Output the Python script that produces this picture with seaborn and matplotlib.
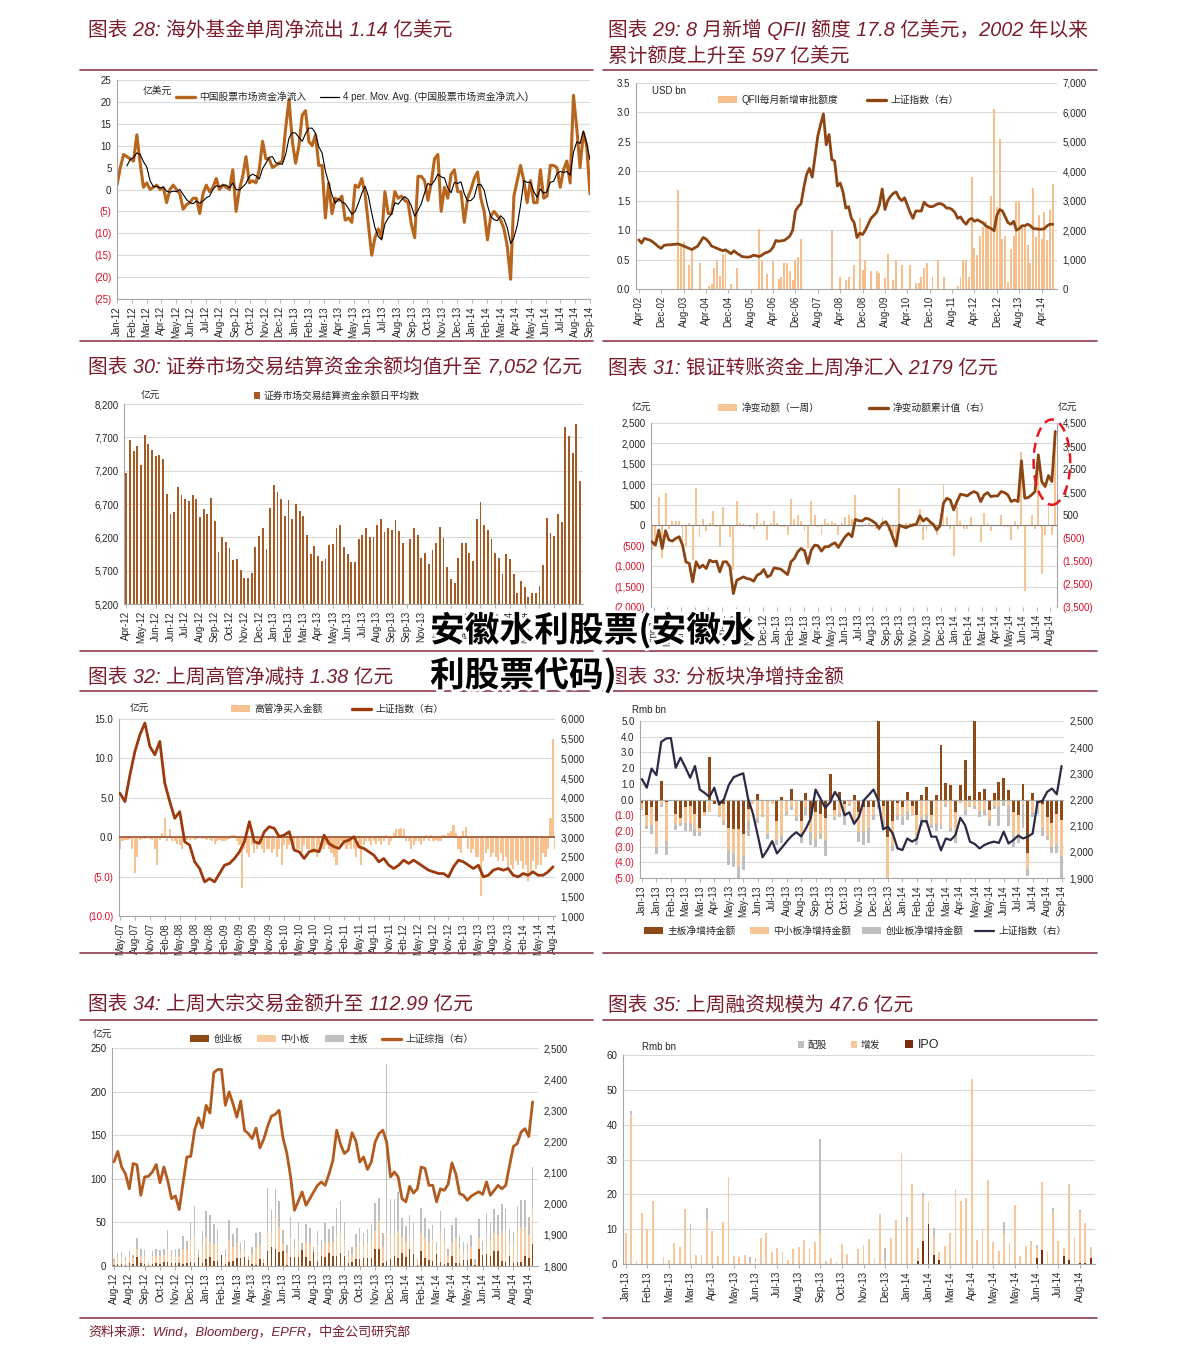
import numpy as np
import pandas as pd
import matplotlib
matplotlib.use("Agg")
import matplotlib.pyplot as plt
import matplotlib.patheffects as pe
from matplotlib.patches import Patch, Ellipse
from matplotlib.lines import Line2D
import seaborn as sns

# ============================ DATA ============================
# --- 图表28: weekly net flow (USD 100m), Jan-12 .. Sep-14
p28_labels = ["Jan-12", "Feb-12", "Mar-12", "Apr-12", "May-12", "Jun-12", "Jul-12", "Aug-12", "Sep-12",
              "Oct-12", "Nov-12", "Dec-12", "Jan-13", "Feb-13", "Mar-13", "Apr-13", "May-13", "Jun-13",
              "Jul-13", "Aug-13", "Sep-13", "Oct-13", "Nov-13", "Dec-13", "Jan-14", "Feb-14", "Mar-14",
              "Apr-14", "May-14", "Jun-14", "Jul-14", "Aug-14", "Sep-14"]
p28_flow = [1, 5, 8, 7.5, 7, 6.5, 12.5, 6, 0.5, 1.5,
            0, 0.5, 1, 0, 0.5, -3, 0, 1, 0, -1,
            -4.5, -3.5, -3, -2, -2, -5.5, -1, 1, -0.5, 0.5,
            2.5, 0, 1, 0.5, 0, 4.5, -5, 0, 3, 7.5,
            1.5, 2, 1.5, 4.5, 11, 7, 7, 5, 5.5, 6,
            6.5, 14, 20.5, 11, 6, 10, 17, 18, 11, 10,
            12.5, 5.5, 5.5, -6.5, 1.5, -5.5, -2, -2.5, -1.5, -7,
            -6.5, -7.5, 1, 0.5, 2.5, -1, -8, -15, -11, -9,
            -11, -0.5, -5.5, -5.5, -0.5, -2, -1.5, -2.5, -3, -8,
            -11, 3, 3, 2, -2.5, 1.5, 7, 8, -5, 0.5,
            -2, 3.5, 4.5, -0.5, -0.5, -7.5, -2, 0, 2.5, 4,
            -2, -5, -11.5, -6, -5, -6, -7, -9, -13, -20.5,
            -1.5, 2, 5.5, 2, -3, 2, -3, -3, 4.5, -2,
            -1.5, 5.5, 5.5, 5, 0.5, 4.5, 6.5, 1.5, 21.5, 14,
            5, 13, 10, -1]

# --- 图表29: monthly QFII approvals (USD bn) and SSE index, Apr-02 .. Aug-14
p29_labels = ["Apr-02", "Dec-02", "Aug-03", "Apr-04", "Dec-04", "Aug-05", "Apr-06", "Dec-06", "Aug-07",
              "Apr-08", "Dec-08", "Aug-09", "Apr-10", "Dec-10", "Aug-11", "Apr-12", "Dec-12", "Aug-13", "Apr-14"]
p29_qfii = [0, 0, 0, 0, 0, 0, 0, 0, 0, 0,
            0, 0, 0, 0, 1.68, 0.72, 0.8, 0, 0.4, 0.65,
            0, 0, 0.45, 0, 0, 0.05, 0.08, 0.35, 0.5, 0.22,
            0.6, 0.62, 0, 0.08, 0, 0.35, 0, 0, 0, 0,
            0, 0, 0, 1.02, 0.47, 0, 0.25, 0, 0.47, 0,
            0.17, 0.2, 0.45, 0.45, 0.3, 0.15, 0.5, 0.55, 0.85, 0,
            0, 0, 0, 0, 0, 0, 0, 0, 0, 1.0,
            0, 0, 0.2, 0, 0.15, 0.2, 0, 0.4, 0, 1.2,
            0.32, 0.5, 0, 0.3, 0, 0.3, 0.28, 0, 0.18, 0.6,
            0, 0.15, 0.5, 0, 0.4, 0, 0, 0.4, 0, 0.1,
            0.1, 0.2, 0.35, 0.45, 0, 0.2, 0, 0.5, 0, 0.2,
            0, 0, 0, 0, 0.05, 0.2, 0.5, 0.5, 0.2, 1.9,
            0.7, 0.57, 0.9, 1.05, 1.15, 1.05, 1.58, 3.05, 1.4, 2.55,
            0.85, 0.9, 0.12, 0.68, 0.9, 1.5, 1.5, 1.05, 1.05, 0.75,
            0.45, 1.72, 0.88, 1.25, 0.85, 1.3, 0.83, 1.35, 1.78]
p29_index = [1670, 1560, 1720, 1690, 1660, 1600, 1520, 1440, 1380, 1480,
             1500, 1500, 1510, 1520, 1530, 1500, 1460, 1420, 1380, 1340,
             1400, 1450, 1600, 1750, 1700, 1600, 1460, 1420, 1380, 1340,
             1300, 1330, 1260, 1200, 1300, 1220, 1160, 1100, 1090, 1080,
             1100, 1150, 1130, 1100, 1150, 1220, 1250, 1300, 1420, 1650,
             1620, 1640, 1650, 1720, 1800, 2000, 2650, 2800, 2900, 3450,
             3900, 4100, 3800, 4500, 5200, 5600, 5950, 4900, 5250, 4400,
             4350, 3500, 3600, 3300, 2750, 2800, 2400, 2250, 1750, 1900,
             1850, 2000, 2200, 2400, 2500, 2600, 2850, 3400, 2700, 3000,
             3150, 3250, 3300, 3100, 3000, 3100, 2850, 2600, 2400, 2650,
             2650, 2650, 2950, 2850, 2800, 2800, 2850, 2900, 2900, 2850,
             2750, 2750, 2700, 2600, 2400, 2450, 2300, 2200, 2350, 2400,
             2300, 2350, 2300, 2250, 2150, 2100, 2050, 1980, 2500, 2700,
             2650, 2450, 2250, 2200, 2300, 2000, 2050, 2150, 2150, 2200,
             2150, 2050, 2050, 2030, 2030, 2050, 2150, 2200, 2200]

# --- 图表30: weekly settlement fund balance (100m RMB)
p30_labels = ["Apr-12", "May-12", "Jun-12", "Jun-12", "Jul-12", "Aug-12", "Sep-12", "Oct-12", "Nov-12",
              "Dec-12", "Jan-13", "Feb-13", "Mar-13", "Apr-13", "May-13", "Jun-13", "Jul-13", "Aug-13",
              "Sep-13", "Sep-13", "Nov-13", "Dec-13", "Dec-13", "Jan-14", "Feb-14", "Mar-14", "Apr-14",
              "May-14", "Jun-14", "Jul-14", "Aug-14"]
p30_balance = [7166, 7665, 7490, 7575, 7280, 7740, 7600, 7510, 7415, 7430,
               7370, 6857, 6552, 6582, 6950, 6830, 6772, 6742, 6842, 6782,
               6512, 6627, 6547, 6787, 6442, 5973, 6208, 6123, 6038, 5853,
               5868, 5714, 5584, 5589, 5669, 6058, 6213, 6333, 6023, 6647,
               6982, 6877, 6782, 6517, 6767, 6482, 6707, 6592, 6527, 6228,
               5943, 6068, 5923, 5843, 5873, 6078, 6103, 6333, 6387, 6058,
               5943, 5829, 5829, 6168, 6228, 6333, 6208, 6198, 6378, 6482,
               6273, 6333, 6313, 6462, 6288, 6108, np.nan, 6168, 6333, 6228,
               5893, 5958, 5794, 6008, 6108, 6353, 6183, 5749, 5569, 5509,
               5893, 6108, 6108, 5958, 5839, 6472, 6732, 6392, 6308, 6178,
               5958, 5893, 5644, 5943, 5873, 5644, 5360, 5549, 5449, 5300,
               5370, 5370, 5474, 5779, 6497, 6268, 6213, 6557, 6432, 7860,
               7720, 7460, 7905, 7052]

# --- 图表31: weekly bank-securities transfer (100m RMB) and cumulative value
p31_labels = ["Apr-12", "May-12", "Jun-12", "Jul-12", "Aug-12", "Sep-12", "Oct-12", "Nov-12", "Dec-12",
              "Jan-13", "Feb-13", "Mar-13", "Apr-13", "May-13", "Jun-13", "Jul-13", "Aug-13", "Sep-13",
              "Sep-13", "Nov-13", "Nov-13", "Dec-13", "Jan-14", "Feb-14", "Mar-14", "Apr-14", "May-14",
              "Jun-14", "Jul-14", "Aug-14"]
p31_weekly = [-600, -400, 700, -800, 800, -100, 100, 100, 100, -400,
              -500, 50, -850, 900, -300, 150, -150, 50, 350, -50,
              -500, 450, 0, -300, -1100, 600, 50, 50, 0, -50,
              -100, 300, 50, 100, -350, 50, 350, 50, -50, -50,
              -250, 650, 150, 250, 100, -150, -550, 600, 250, -50,
              -250, 150, 50, 100, 50, -250, 50, 200, 250, 150,
              750, -50, -50, 50, 50, -50, -100, -150, 200, 50,
              -150, -250, -400, 900, 0, 50, 50, 50, 50, 400,
              -350, -150, 100, 50, -250, 100, 1000, 200, -100, -750,
              450, 100, -100, -100, 200, 0, 0, -400, 300, 50,
              -150, 0, 0, 250, -50, -50, -350, 100, -100, 1800,
              -1600, 0, 250, -100, 1500, -1200, -250, 500, -250, 2179]
p31_cum = [-663, -809, -154, -954, -183, -590, -634, -518, -445, -809,
           -1536, -1609, -2409, -1536, -1798, -1681, -1827, -1463, -1536, -1507,
           -1972, -1536, -1536, -1754, -2918, -2336, -2263, -2191, -2263, -2292,
           -2380, -2118, -2045, -1870, -2191, -2118, -1798, -1827, -1856, -1972,
           -2089, -1536, -1390, -1100, -954, -1056, -1609, -1027, -809, -838,
           -1071, -881, -881, -780, -707, -910, -663, -445, -300, -445,
           311, 253, 239, 355, 326, 239, 137, -81, 137, 209,
           -38, -445, -852, 64, -9, -52, 20, 64, 93, 471,
           239, 355, 209, 93, -154, 35, 1010, 1228, 1156, 719,
           1083, 1403, 1374, 1330, 1446, 1519, 1446, 1083, 1374, 1475,
           1300, 1330, 1330, 1519, 1475, 1374, 1083, 1156, 1083, 2857,
           1228, 1257, 1374, 1519, 3119, 1955, 1737, 2217, 1955, 4137]

# --- 图表32: executives' net purchase (100m RMB, half-monthly) and SSE index (monthly), May-07 .. Aug-14
p32_labels = ["May-07", "Aug-07", "Nov-07", "Feb-08", "May-08", "Aug-08", "Nov-08", "Feb-09", "May-09",
              "Aug-09", "Nov-09", "Feb-10", "May-10", "Aug-10", "Nov-10", "Feb-11", "May-11", "Aug-11",
              "Nov-11", "Feb-12", "May-12", "Aug-12", "Nov-12", "Feb-13", "May-13", "Aug-13", "Nov-13",
              "Feb-14", "May-14", "Aug-14"]
p32_netbuy = [-1.5, -0.5, -0.3, -0.3, -0.2, -1.5, -4.5, -2.5, -0.3, -0.2,
              -0.2, -0.1, -0.2, -0.3, -1.5, -3.5, -0.3, 0.5, 2.5, -0.5,
              1.0, -0.5, -0.5, -0.8, -1.0, -1.5, -0.5, -0.3, -0.3, 0.2,
              -0.3, -0.2, 0.2, -0.2, -0.2, -0.3, -0.3, -0.5, -0.8, -0.5,
              -0.3, -0.5, -0.5, -0.3, -0.2, 0.3, 0.3, -0.5, -1.0, -6.5,
              -1.5, -2.0, -2.5, -1.0, -2.0, -1.5, -1.0, -1.5, -2.0, -1.5,
              -1.5, -2.0, -1.5, -2.5, -1.5, -3.5, -1.0, -1.5, -1.0, -1.5,
              -1.0, -1.5, -1.5, -2.0, -1.0, -1.5, -1.5, -2.0, -2.0, -2.5,
              -1.0, -1.5, -1.5, -1.0, -1.5, -2.0, -2.5, -3.5, -1.0, -0.5,
              -1.0, -1.5, -1.0, -1.5, -1.5, -2.5, -1.5, -3.5, -1.0, -0.5,
              -0.5, -1.0, -0.5, -0.8, -0.5, -1.0, -0.5, 0.3, -1.0, -0.5,
              0.5, 1.0, 1.0, 1.2, 1.0, -0.5, -0.5, -1.5, -1.0, -0.5,
              -0.5, -1.0, -0.5, 0.3, -0.5, 0.3, -0.5, -0.3, -0.5, -0.5,
              0.3, 0.2, 0.5, 0.8, 1.5, 0.5, -1.5, -2.0, 0.8, 1.3,
              -1.5, -2.0, -1.5, -2.5, -2.5, -7.5, -3.0, -2.0, -1.5, -2.5,
              -2.0, -2.5, -3.0, -2.0, -3.0, -2.5, -4.0, -3.5, -4.0, -3.0,
              -3.5, -3.0, -4.0, -3.5, -5.5, -4.5, -3.0, -4.0, -3.5, -3.5,
              -2.0, -2.5, -1.5, 2.5, 12.5, -1.5]
p32_index = [4115, 3903, 4582, 5177, 5600, 5898, 5304, 5092, 5430, 4370,
             3903, 3479, 3648, 2885, 2800, 2375, 2205, 1866, 1950, 1866,
             2078, 2290, 2333, 2460, 2630, 2885, 3394, 2885, 2842, 3139,
             3267, 3224, 3012, 3054, 3139, 2672, 2630, 2460, 2630, 2672,
             2630, 3054, 2842, 2757, 2715, 2885, 2927, 3012, 2757, 2715,
             2630, 2545, 2375, 2460, 2290, 2205, 2290, 2418, 2333, 2418,
             2333, 2248, 2163, 2120, 2078, 2078, 1993, 2248, 2418, 2375,
             2290, 2205, 2290, 1993, 2035, 2163, 2205, 2163, 2205, 2035,
             1993, 2078, 2035, 2120, 2035, 2035, 2120, 2248]

# --- 图表33: weekly net increase by board (RMB bn) and SSE index
p33_labels = ["Jan-13", "Jan-13", "Feb-13", "Mar-13", "Mar-13", "Apr-13", "May-13", "May-13", "Jun-13",
              "Jul-13", "Aug-13", "Aug-13", "Sep-13", "Oct-13", "Oct-13", "Nov-13", "Dec-13", "Dec-13",
              "Jan-14", "Feb-14", "Feb-14", "Mar-14", "Apr-14", "May-14", "May-14", "Jun-14", "Jul-14",
              "Jul-14", "Aug-14", "Sep-14"]
p33_main = [-0.2, -1.0, -0.5, -1.4, 1.2, -0.15, 0, -0.9, -1.2, -0.5,
            -0.4, -0.9, -1.8, -0.8, 2.7, -0.3, -0.2, -0.3, -1.8, -1.9,
            -1.9, -2.2, -0.6, -0.1, 0.35, -0.1, 0, -0.1, -1.4, 0.15,
            -0.1, 0.65, -0.1, -1.4, 0.4, -1.2, -0.8, -0.9, -1.2, 1.6,
            -0.7, 0.45, -0.3, -0.1, 0.3, -0.8, -0.5, -0.5, -0.5, 5.0,
            -0.4, -2.4, -1.4, -0.2, -0.5, 0.5, -0.4, -1.0, 0.3, 0.8,
            -1.0, 0.3, 3.5, 1.05, 0.9, -0.8, 0.9, 2.5, 0.2, 5.0,
            0.45, 0.7, -0.7, 0.4, 1.1, 1.35, 0.6, -0.8, -1.0, 1.0,
            -3.4, 0.4, -0.2, -0.3, -1.1, -1.5, -0.9, -1.3]
p33_sme = [-0.4, -0.7, -1.1, -1.6, -0.3, -2.5, 0, -0.7, -0.3, -1.0,
           -1.1, -1.0, -0.3, -0.2, -0.8, 0, -0.8, -1.1, -1.4, -1.5,
           -2.4, -1.4, -0.8, -0.2, -1.2, -0.8, -2.2, -0.2, -1.2, -2.3,
           -0.7, -0.4, -1.0, -0.8, -0.5, -0.9, -1.7, -1.3, -1.4, -0.2,
           -0.4, -0.9, -0.7, -0.2, -1.3, -1.3, -1.5, -1.3, -0.5, -0.3,
           -1.0, -2.6, -1.5, -0.8, -0.6, -0.8, -0.5, -1.6, -1.2, -1.0,
           -0.6, -1.5, -1.6, -0.3, -1.8, -1.6, -0.2, -0.7, -0.4, -0.4,
           -0.8, -0.7, -0.6, -0.4, -0.5, -0.1, -0.4, -1.5, -1.2, -0.3,
           -1.0, -0.8, -0.5, -1.5, -1.2, -1.5, -2.0, -2.3]
p33_chinext = [-0.1, -0.2, -0.6, -0.5, -0.2, -0.9, 0, -0.35, -0.2, -0.5,
               -0.5, -0.4, -0.2, 0, 0, 0, -0.1, -0.2, -1.0, -0.9,
               -0.8, -0.9, -0.9, 0, -0.3, -0.2, -0.3, 0, -0.3, -0.5,
               -0.2, -0.3, -0.3, -0.6, -0.5, -0.8, -0.5, -0.3, -1.0, 0,
               -0.2, -0.2, -0.6, -0.1, -0.1, -0.6, -0.9, -1.0, -0.3, -0.3,
               -0.4, 0, -0.4, -0.3, -0.5, -0.5, -0.1, -0.3, -0.5, -0.5,
               -0.2, -0.5, -0.3, -0.2, -0.3, -0.4, 0, -0.3, -0.1, -0.2,
               -0.3, -0.3, -0.4, -0.2, -1.2, -0.3, -1.3, -0.7, -0.6, -1.5,
               -0.5, -0.3, -0.2, -0.5, -0.3, -0.4, -0.5, -1.4]
p33_index = [2278, 2245, 2318, 2293, 2420, 2433, 2435, 2321, 2360, 2323,
             2283, 2328, 2238, 2225, 2210, 2245, 2181, 2201, 2255, 2285,
             2293, 2300, 2204, 2147, 2064, 1979, 2007, 2041, 1994, 2016,
             2039, 2060, 2075, 2059, 2089, 2128, 2238, 2204, 2168, 2189,
             2229, 2201, 2140, 2151, 2107, 2134, 2197, 2217, 2238, 2197,
             2086, 2096, 2070, 2013, 2007, 2051, 2039, 2049, 2117, 2117,
             2058, 2058, 2006, 2051, 2045, 2064, 2130, 2102, 2039, 2030,
             2013, 2026, 2034, 2039, 2034, 2077, 2032, 2045, 2062, 2051,
             2058, 2070, 2189, 2194, 2229, 2242, 2220, 2328]

# --- 图表34: weekly block trades (100m RMB), stack tops, and SSE composite
p34_labels = ["Aug-12", "Aug-12", "Sep-12", "Oct-12", "Nov-12", "Dec-12", "Jan-13", "Feb-13", "Mar-13",
              "Apr-13", "May-13", "Jun-13", "Jul-13", "Aug-13", "Aug-13", "Sep-13", "Oct-13", "Nov-13",
              "Dec-13", "Jan-14", "Feb-14", "Mar-14", "Apr-14", "May-14", "Jun-14", "Jul-14", "Aug-14", "Aug-14"]
p34_chinext = [1, 2, 2, 1, 3, 2, 10, 3, 2, 1,
               2, 3, 2, 5, 5, 4, 3, 3, 2, 3,
               5, 4, 10, 3, 8, 10, 6, 6, 13, 2,
               5, 6, 9, 9, 10, 7, 2, 1, 8, 3,
               17, 22, 19, 16, 17, 1, 10, 10, 10, 18,
               10, 6, 16, 6, 12, 10, 15, 12, 12, 15,
               12, 3, 5, 8, 8, 9, 9, 9, 20, 20,
               3, 6, 8, 11, 9, 15, 10, 19, 14, 1,
               17, 9, 7, 6, 14, 5, 2, 4, 12, 4,
               4, 7, 7, 8, 1, 20, 13, 14, 12, 17,
               17, 6, 5, 11, 3, 5, 5, 11, 9, 25]
p34_sme_top = [6, 10, 10, 7, 12, 9, 20, 12, 10, 3,
               11, 12, 11, 13, 18, 11, 12, 12, 20, 18,
               30, 35, 10, 24, 33, 28, 25, 25, 4, 12,
               30, 22, 26, 16, 18, 8, 14, 22, 24, 5,
               40, 38, 55, 45, 25, 15, 32, 20, 30, 17,
               28, 26, 14, 24, 18, 28, 26, 28, 36, 40,
               30, 11, 14, 22, 26, 24, 26, 28, 40, 52,
               22, 38, 35, 36, 40, 33, 28, 34, 30, 5,
               38, 33, 27, 30, 18, 38, 27, 12, 28, 32,
               22, 16, 16, 22, 5, 32, 18, 36, 30, 38,
               35, 40, 38, 26, 24, 40, 45, 45, 35, 65]
p34_total = [8, 15, 16, 10, 17, 13, 32, 20, 18, 5,
             17, 19, 18, 20, 41, 18, 20, 20, 34, 29,
             50, 69, 18, 40, 63, 58, 48, 42, 5, 18,
             53, 37, 44, 26, 30, 12, 22, 38, 39, 8,
             90, 64, 88, 75, 41, 24, 56, 31, 50, 26,
             48, 44, 22, 40, 30, 49, 43, 46, 66, 74,
             50, 18, 22, 37, 44, 38, 43, 47, 72, 78,
             38, 232, 77, 77, 85, 55, 46, 58, 50, 8,
             66, 55, 42, 47, 28, 63, 44, 20, 47, 55,
             36, 27, 26, 35, 8, 54, 29, 61, 50, 65,
             58, 71, 65, 42, 39, 69, 76, 76, 56, 113]
p34_index = [2134, 2168, 2118, 2096, 2048, 2129, 2125, 2027, 2086, 2088,
             2102, 2126, 2067, 2118, 2075, 2016, 2025, 1981, 2067, 2150,
             2152, 2236, 2276, 2244, 2316, 2291, 2421, 2431, 2431, 2316,
             2359, 2321, 2278, 2330, 2236, 2225, 2209, 2243, 2179, 2207,
             2248, 2281, 2287, 2300, 2212, 2163, 2086, 1979, 2008, 2038,
             1995, 2016, 2038, 2059, 2070, 2059, 2096, 2139, 2236, 2191,
             2161, 2172, 2228, 2201, 2134, 2150, 2110, 2134, 2198, 2225,
             2236, 2198, 2086, 2102, 2086, 2016, 2006, 2056, 2034, 2048,
             2118, 2113, 2059, 2059, 2006, 2048, 2043, 2062, 2131, 2096,
             2032, 2027, 2011, 2024, 2032, 2038, 2030, 2070, 2027, 2043,
             2059, 2048, 2059, 2123, 2184, 2193, 2230, 2241, 2216, 2327]

# --- 图表35: weekly equity financing (RMB bn)
p35_labels = ["Jan-13", "Feb-13", "Mar-13", "Mar-13", "Apr-13", "May-13", "Jun-13", "Jul-13", "Aug-13",
              "Sep-13", "Oct-13", "Nov-13", "Dec-13", "Jan-14", "Jan-14", "Mar-14", "Apr-14", "May-14",
              "May-14", "Jun-14", "Jul-14", "Aug-14"]
p35_ipo = [0, 0, 0, 0, 0, 0, 0, 0, 0, 0,
           0, 0, 0, 0, 0, 0, 0, 0, 0, 0,
           0, 0, 0, 0, 0, 0, 0, 0, 0, 0,
           0, 0, 0, 0, 0, 0, 0, 0, 0, 0,
           0, 0, 0, 0, 0, 0, 0, 0, 0, 0,
           0, 0, 0, 0, 1, 6.5, 11.5, 2.7, 1.2, 0,
           0, 0, 0, 0, 0, 0, 0, 0, 0, 0,
           0, 0, 0, 0, 0, 0, 1.6, 4, 0, 0,
           0, 2.3, 1.2, 0, 0.4, 0.4, 1.7]
p35_placement = [9, 43, 1, 14.5, 10, 18, 0, 2, 1.2, 6,
                 5, 15.8, 9.5, 2.7, 2.7, 13, 9.5, 2.3, 12, 25,
                 2.2, 2, 2.7, 0.5, 0.8, 7.5, 9, 3.5, 4.7, 3.4,
                 1.2, 4.2, 4.8, 6.8, 4.2, 6.2, 9, 0.8, 1.6, 0.5,
                 5.8, 2.8, 0, 4.2, 5.5, 7.2, 1.8, 14.3, 1, 7.5,
                 12.5, 32, 12, 23, 3.5, 13, 6.3, 5, 2.3, 5.3,
                 8.8, 21.5, 18.2, 19, 53, 7, 9.8, 24, 6.2, 3.8,
                 9, 6, 17, 2.3, 5.3, 6.7, 2.9, 19.5, 3.8, 14.5,
                 6.7, 2.2, 21.8, 7.7, 14.1, 11.4, 3.1]
p35_rights = [0, 1, 0, 0, 0, 0, 0, 0, 0, 0,
              0, 0, 2, 0, 0, 3.2, 0, 0, 0, 0,
              0, 0, 0, 1.5, 1.0, 0, 0, 0, 0, 0,
              0, 0, 0, 0, 0, 0, 26.8, 0, 0, 0,
              0, 0, 0, 0, 0, 0, 0, 0, 3.5, 0,
              0, 0, 1.5, 0, 0, 1, 0, 2.6, 0, 0,
              0, 0, 0, 0, 0, 0, 0, 0, 0, 0,
              3.2, 0, 0, 0, 0, 0, 1, 0, 0, 1.5,
              0, 0, 0, 0, 1, 0, 0]

# ============================ STYLE ============================
sns.set_theme(style="white")
plt.rcParams["font.family"] = ["Liberation Sans", "Noto Sans CJK SC", "DejaVu Sans"]
plt.rcParams["axes.unicode_minus"] = False

W, H = 1191, 1359
fig = plt.figure(figsize=(W / 100, H / 100), dpi=100)

RED = "#D9102A"
TXT = "#262626"
AXC = "#A6A6A6"
GRID = "#DADADA"
MAROON = "#7A1C2C"
RULE = "#8C3B4B"
FS = 7


def add_ax(x0, y0, x1, y1):
    return fig.add_axes([x0 / W, 1 - y1 / H, (x1 - x0) / W, (y1 - y0) / H])


def fmt(v, dec=0):
    s = f"{abs(v):,.{dec}f}"
    return f"({s})" if v < 0 else s


def yticks(ax, ticks, dec=0):
    ticks = list(ticks)
    ax.set_yticks(ticks)
    ax.set_yticklabels([fmt(t, dec) for t in ticks])
    for lab, t in zip(ax.get_yticklabels(), ticks):
        lab.set_color(RED if t < 0 else TXT)
        lab.set_fontsize(FS)


def base(ax, xticks, xlabels, xlim, ylim, grid=True, bottom_spine=True):
    ax.set_xlim(*xlim)
    ax.set_ylim(*ylim)
    ax.set_xticks(list(xticks))
    ax.set_xticklabels(xlabels, rotation=90, fontsize=FS, color=TXT)
    ax.set_xlabel("")
    ax.set_ylabel("")
    for s in ["top", "right"]:
        ax.spines[s].set_visible(False)
    for s in ["left", "bottom"]:
        ax.spines[s].set_color(AXC)
        ax.spines[s].set_linewidth(0.8)
    ax.spines["bottom"].set_visible(bottom_spine)
    ax.tick_params(axis="x", bottom=True, length=3, width=0.6, color=AXC, pad=2, direction="out")
    ax.tick_params(axis="y", left=False, length=0, pad=4)
    ax.xaxis.grid(False)
    ax.yaxis.grid(grid, color=GRID, lw=0.8)
    ax.set_axisbelow(True)


def style_twin(a2, ticks, ylim, dec=0, spine=False):
    a2.set_ylim(*ylim)
    yticks(a2, ticks, dec)
    for s in ["top", "left", "bottom"]:
        a2.spines[s].set_visible(False)
    a2.spines["right"].set_visible(spine)
    a2.spines["right"].set_color(AXC)
    a2.spines["right"].set_linewidth(0.8)
    a2.tick_params(axis="y", right=False, length=0, pad=4)
    a2.set_ylabel("")
    a2.grid(False)


def bars(ax, x, y, color, width):
    sns.barplot(x=x, y=y, ax=ax, color=color, width=width, native_scale=True, errorbar=None,
                saturation=1, linewidth=0, edgecolor="none", orient="x")


def line(ax, x, y, color, lw):
    sns.lineplot(x=x, y=y, ax=ax, color=color, linewidth=lw, estimator=None, sort=False)


def ftext(x, y, s, **kw):
    fig.text(x / W, 1 - y / H, s, **kw)


def leg(kind, color, label, x, y, lw=2.4, hl=2.0, hh=0.7, fs=FS):
    if kind == "patch":
        h = Patch(facecolor=color, edgecolor="none")
    else:
        h = Line2D([0], [0], color=color, lw=lw)
    fig.legend(handles=[h], labels=[label], loc="center left", bbox_to_anchor=(x / W, 1 - y / H),
               frameon=False, fontsize=fs, handlelength=hl, handleheight=hh, handletextpad=0.4,
               borderpad=0, borderaxespad=0)


def rule(x0, x1, y, lw=1.2):
    fig.add_artist(Line2D([x0 / W, x1 / W], [1 - y / H, 1 - y / H], transform=fig.transFigure,
                          color=RULE, lw=lw))


def title(x, y, s):
    ftext(x, y, s, fontsize=14.2, color=MAROON, style="italic", va="center", ha="left")


# ============================ FRAME / TITLES ============================
title(88, 30, "图表 28: 海外基金单周净流出 1.14 亿美元")
title(608, 30, "图表 29: 8 月新增 QFII 额度 17.8 亿美元，2002 年以来")
title(608, 56, "累计额度上升至 597 亿美元")
title(88, 368, "图表 30: 证券市场交易结算资金余额均值升至 7,052 亿元")
title(608, 368, "图表 31: 银证转账资金上周净汇入 2179 亿元")
title(88, 677, "图表 32: 上周高管净减持 1.38 亿元")
title(608, 677, "图表 33: 分板块净增持金额")
title(88, 1005, "图表 34: 上周大宗交易金额升至 112.99 亿元")
title(608, 1005, "图表 35: 上周融资规模为 47.6 亿元")
for y in [70, 341, 651, 691, 953, 1020, 1318]:
    rule(80, 593, y)
    rule(603, 1097, y)
ftext(88, 1332, "资料来源：Wind，Bloomberg，EPFR，中金公司研究部", fontsize=9.4, color=MAROON,
      style="italic", va="center", ha="left")

# ============================ 图表28 ============================
C28 = "#B8651E"
ax = add_ax(117, 80, 590, 299)
x28 = np.linspace(0, len(p28_labels) - 1, len(p28_flow))
ma28 = pd.Series(p28_flow).rolling(4).mean()
line(ax, x28, p28_flow, C28, 2.2)
line(ax, x28, ma28, "black", 0.8)
base(ax, range(len(p28_labels)), p28_labels, (0, len(p28_labels) - 1), (-25, 25))
yticks(ax, range(-25, 26, 5))
ftext(143, 91, "亿美元", fontsize=FS, color=TXT, va="center")
leg("line", C28, "中国股票市场资金净流入", 176, 97, lw=2.4)
leg("line", "black", "4 per. Mov. Avg. (中国股票市场资金净流入)", 320, 97, lw=0.9)

# ============================ 图表29 ============================
C29B, C29L = "#F6BE8A", "#8E4512"
ax = add_ax(636, 83, 1057, 289)
x29 = np.arange(len(p29_qfii))
bars(ax, x29, p29_qfii, C29B, 0.7)
a2 = ax.twinx()
line(a2, x29, p29_index, C29L, 2.0)
base(ax, x29[::8], p29_labels, (-1, 149.5), (0, 3.5))
yticks(ax, np.arange(0, 3.51, 0.5), 1)
style_twin(a2, range(0, 7001, 1000), (0, 7000))
ftext(652, 91, "USD bn", fontsize=FS, color=TXT, va="center")
leg("patch", C29B, "QFII每月新增审批额度", 718, 100)
leg("line", C29L, "上证指数（右）", 867, 100)

# ============================ 图表30 ============================
C30 = "#A65A24"
ax = add_ax(124, 404, 583, 604)
x30 = np.arange(len(p30_balance))
bars(ax, x30, p30_balance, C30, 0.5)
base(ax, x30[::4][:len(p30_labels)], p30_labels, (-0.6, len(p30_balance) - 0.2), (5200, 8200))
yticks(ax, range(5200, 8201, 500))
ftext(141, 396, "亿元", fontsize=FS, color=TXT, va="center")
leg("patch", C30, "证券市场交易结算资金余额日平均数", 254, 396, hl=0.6, hh=0.6)

# ============================ 图表31 ============================
C31B, C31L = "#F7C494", "#8B4513"
ax = add_ax(651, 423, 1057, 607)
x31 = np.arange(len(p31_weekly))
bars(ax, x31, p31_weekly, C31B, 0.55)
a2 = ax.twinx()
line(a2, x31, p31_cum, C31L, 2.0)
base(ax, np.linspace(0.5, 117.5, len(p31_labels)), p31_labels, (-0.3, 119.5), (-2000, 2500),
     bottom_spine=False)
ax.axhline(0, color="#7F7F7F", lw=0.8, zorder=1.5)
yticks(ax, range(-2000, 2501, 500))
style_twin(a2, range(-3500, 4501, 1000), (-3500, 4500), spine=True)
a2.add_patch(Ellipse((118, 2798), 10.8, 3709, fill=False, ec="#E8141E", ls=(0, (4, 2.5)), lw=1.8,
                     clip_on=False, zorder=5))
ftext(632, 408, "亿元", fontsize=FS, color=TXT, va="center")
ftext(1058, 408, "亿元", fontsize=FS, color=TXT, va="center")
leg("patch", C31B, "净变动额（一周）", 718, 408)
leg("line", C31L, "净变动额累计值（右）", 869, 408)

# ============================ 图表32 ============================
C32B, C32L = "#F8C290", "#9C3A0E"
ax = add_ax(119, 719, 555, 916)
x32b = np.arange(len(p32_netbuy)) / 2
bars(ax, x32b, p32_netbuy, C32B, 0.85)
a2 = ax.twinx()
x32l = np.arange(len(p32_index))
line(a2, x32l, p32_index, C32L, 2.0)
base(ax, np.arange(0, 88, 3), p32_labels, (-0.2, 87.4), (-10, 15))
ax.axhline(0, color="#A0522D", lw=1.2, zorder=3)
yticks(ax, range(-10, 16, 5), 1)
style_twin(a2, range(1000, 6001, 500), (1000, 6000))
ftext(130, 709, "亿元", fontsize=FS, color=TXT, va="center")
leg("patch", C32B, "高管净买入金额", 231, 709)
leg("line", C32L, "上证指数（右）", 352, 709)

# ============================ 图表33 ============================
C33M, C33S, C33G, C33L = "#8E4A16", "#F7C594", "#BFBFBF", "#2B2945"
ax = add_ax(640, 721, 1064, 878)
m33, s33, g33 = np.array(p33_main), np.array(p33_sme), np.array(p33_chinext)
neg1 = np.minimum(m33, 0)
neg2 = neg1 + np.minimum(s33, 0)
neg3 = neg2 + np.minimum(g33, 0)
pos1 = np.maximum(m33, 0)
x33 = np.arange(len(p33_main))
bars(ax, x33, neg3, C33G, 0.62)
bars(ax, x33, neg2, C33S, 0.62)
bars(ax, x33, neg1, C33M, 0.62)
bars(ax, x33, pos1, C33M, 0.62)
a2 = ax.twinx()
line(a2, x33, p33_index, C33L, 1.6)
base(ax, x33[::3], p33_labels, (-0.4, 87.5), (-5, 5))
ax.axhline(0, color=AXC, lw=0.8, zorder=1.5)
yticks(ax, range(-5, 6), 1)
style_twin(a2, range(1900, 2501, 100), (1900, 2500))
ftext(632, 710, "Rmb bn", fontsize=FS, color=TXT, va="center")
leg("patch", C33M, "主板净增持金额", 644, 931)
leg("patch", C33S, "中小板净增持金额", 750, 931)
leg("patch", C33G, "创业板净增持金额", 862, 931)
leg("line", C33L, "上证指数（右）", 975, 931, lw=1.6)

# ============================ 图表34 ============================
C34C, C34S, C34M, C34L = "#8E4A16", "#F8CBA0", "#BFBFBF", "#B35A1F"
ax = add_ax(112, 1048, 538, 1266)
x34 = np.arange(len(p34_total))
bars(ax, x34, p34_total, C34M, 0.38)
bars(ax, x34, p34_sme_top, C34S, 0.38)
bars(ax, x34, p34_chinext, C34C, 0.38)
a2 = ax.twinx()
line(a2, x34, p34_index, C34L, 2.0)
base(ax, x34[::4], p34_labels, (-0.5, 110.4), (0, 250))
yticks(ax, range(0, 251, 50))
style_twin(a2, range(1800, 2501, 100), (1800, 2500))
ftext(93, 1035, "亿元", fontsize=FS, color=TXT, va="center")
leg("patch", C34C, "创业板", 190, 1039)
leg("patch", C34S, "中小板", 257, 1039)
leg("patch", C34M, "主板", 325, 1039)
leg("line", C34L, "上证综指（右）", 382, 1039)

# ============================ 图表35 ============================
C35R, C35P, C35I = "#BFBFBF", "#F8C89C", "#7A2E0E"
ax = add_ax(623, 1055, 1095, 1264)
x35 = np.arange(len(p35_ipo))
ipo35 = np.array(p35_ipo)
plc35 = ipo35 + np.array(p35_placement)
all35 = plc35 + np.array(p35_rights)
bars(ax, x35, all35, C35R, 0.33)
bars(ax, x35, plc35, C35P, 0.33)
bars(ax, x35, ipo35, C35I, 0.33)
base(ax, x35[::4], p35_labels, (-0.5, 86.8), (0, 60))
yticks(ax, range(0, 61, 10))
ftext(642, 1047, "Rmb bn", fontsize=FS, color=TXT, va="center")
leg("patch", C35R, "配股", 798, 1045, hl=0.6, hh=0.6)
leg("patch", C35P, "增发", 851, 1045, hl=0.6, hh=0.6)
leg("patch", C35I, "IPO", 905, 1045, hl=0.6, hh=0.6, fs=9)

# ============================ WATERMARK ============================
wm = dict(fontsize=25, fontweight="bold", color="black", va="center", ha="left",
          family=["Noto Sans CJK SC", "DejaVu Sans"], zorder=50,
          path_effects=[pe.withStroke(linewidth=4, foreground="white")])
ftext(430, 630, "安徽水利股票(安徽水", **wm)
ftext(430, 675, "利股票代码)", **wm)

fig.savefig("out.png", dpi=100)
